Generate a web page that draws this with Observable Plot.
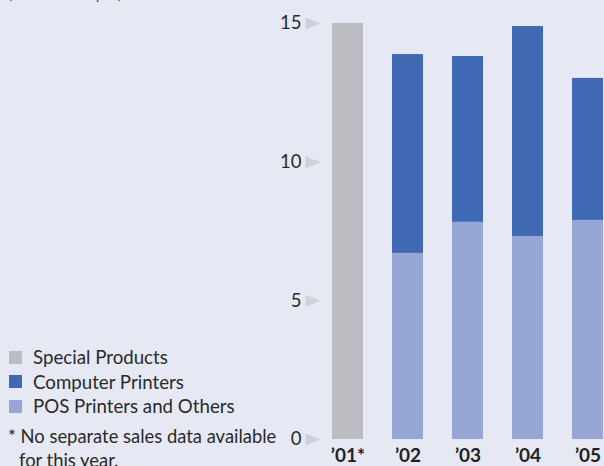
<!DOCTYPE html>
<html>
<head>
<meta charset="utf-8">
<script src="https://cdn.jsdelivr.net/npm/d3@7"></script>
<script src="https://cdn.jsdelivr.net/npm/@observablehq/plot@0.6"></script>
<style>
  html, body { margin: 0; padding: 0; background: #e6e8f4; overflow: hidden; }
  #wrap { position: relative; width: 604px; height: 466px; overflow: hidden; font-family: Lato, "Open Sans", sans-serif; color: #2a2a2a; }
  #chart { position: absolute; left: 0; top: 0; }
  #unit { position: absolute; left: 8px; top: -16px; font-size: 15px; color: #444; white-space: nowrap; }
  #legend { position: absolute; left: 9px; top: 345px; font-size: 18.7px; line-height: 24.5px; }
  .row { display: flex; align-items: center; white-space: nowrap; }
  .sw { width: 13px; height: 13px; margin-right: 11px; flex: none; }
  #note { position: absolute; left: 8px; top: 424px; font-size: 18.4px; line-height: 24px; padding-left: 11px; text-indent: -11px; white-space: nowrap; }
</style>
</head>
<body>
<div id="wrap">
  <div id="unit">(in billions of yen)</div>
  <div id="chart"></div>
  <div id="legend"></div>
  <div id="note">* No separate sales data available<br>for this year.</div>
</div>
<script>
const years = ["’01*", "’02", "’03", "’04", "’05"];
const seriesNames = ["Special Products", "Computer Printers", "POS Printers and Others"];
const seriesColors = ["#bcbdc2", "#4069b4", "#98a6d5"];
const specialProducts = [15.0, 0, 0, 0, 0];
const computerPrinters = [0, 7.17, 5.98, 7.57, 5.12];
const posPrinters = [0, 6.71, 7.83, 7.32, 7.90];
const yTicks = [0, 5, 10, 15];

const data = [];
years.forEach((yr, i) => {
  data.push({year: yr, series: "POS Printers and Others", value: posPrinters[i]});
  data.push({year: yr, series: "Computer Printers", value: computerPrinters[i]});
  data.push({year: yr, series: "Special Products", value: specialProducts[i]});
});

const tri = {
  draw(ctx) {
    ctx.moveTo(-7.5, -6);
    ctx.lineTo(7.5, 0);
    ctx.lineTo(-7.5, 6);
    ctx.closePath();
  }
};

const chart = Plot.plot({
  width: 604,
  height: 466,
  marginLeft: 312,
  marginRight: 0,
  marginTop: 23,
  marginBottom: 27,
  style: {background: "transparent", fontFamily: "Lato, 'Open Sans', sans-serif", overflow: "visible"},
  x: {type: "band", domain: years, range: [303, 632], padding: 0.4833, align: 0.5, round: false, label: null},
  y: {domain: [0, 15], label: null},
  color: {domain: seriesNames, range: seriesColors},
  marks: [
    Plot.barY(data, {
      x: "year", y: "value", fill: "series",
      order: ["POS Printers and Others", "Computer Printers", "Special Products"]
    }),
    Plot.dot(yTicks, {y: d => d, frameAnchor: "left", dx: 0.5, symbol: tri, r: 4, fill: "#cfd0d9", stroke: null}),
    Plot.axisY({ticks: yTicks, tickSize: 0, tickPadding: 11, fontSize: 18.5, color: "#2a2a2a", label: null}),
    Plot.axisX({tickSize: 0, tickPadding: 9, fontSize: 19, fontWeight: "bold", color: "#222", label: null})
  ]
});
document.getElementById("chart").appendChild(chart);

const legend = document.getElementById("legend");
seriesNames.forEach((name, i) => {
  const row = document.createElement("div");
  row.className = "row";
  const sw = document.createElement("span");
  sw.className = "sw";
  sw.style.background = seriesColors[i];
  const t = document.createElement("span");
  t.textContent = name;
  row.appendChild(sw);
  row.appendChild(t);
  legend.appendChild(row);
});
</script>
</body>
</html>
